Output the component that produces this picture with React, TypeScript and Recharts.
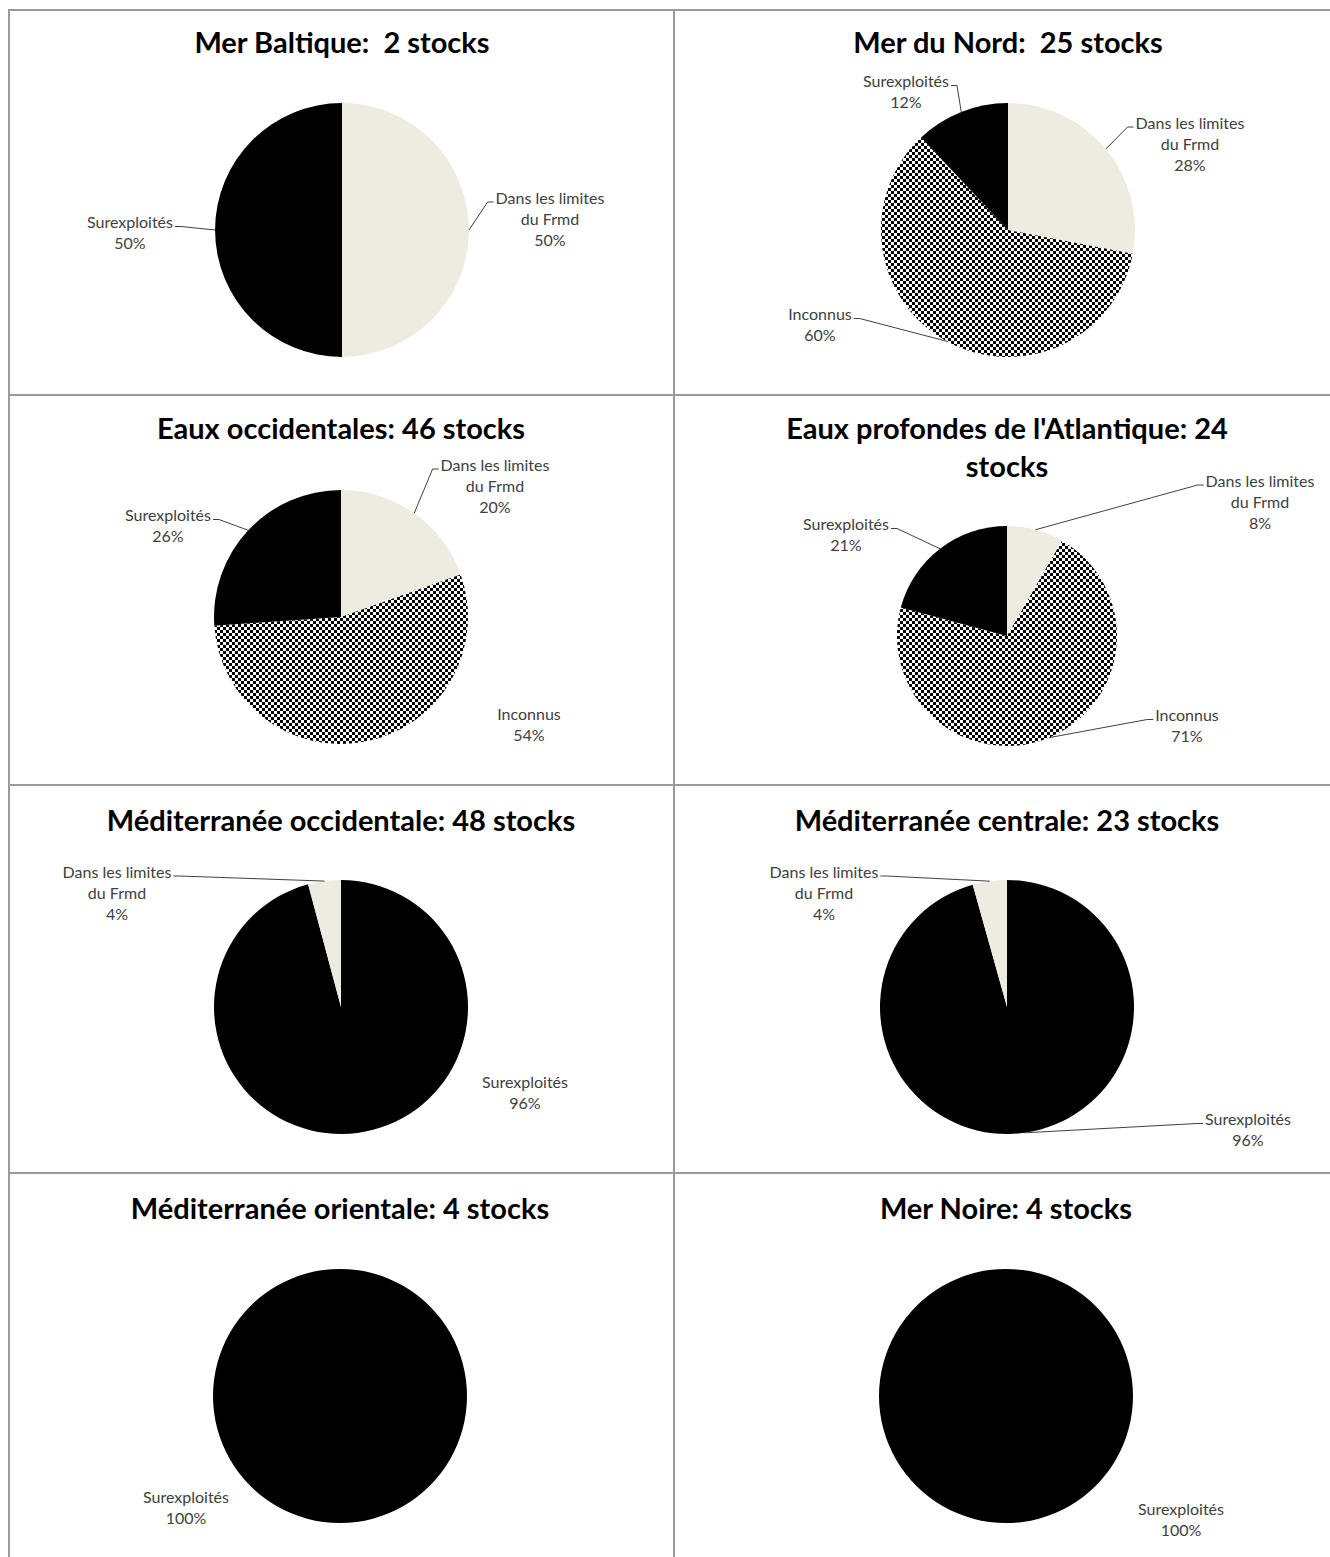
import React from "react";
import { PieChart, Pie, Cell } from "recharts";

// ---- data ----
const titles = [
  "Mer Baltique:  2 stocks",
  "Mer du Nord:  25 stocks",
  "Eaux occidentales: 46 stocks",
  "Eaux profondes de l'Atlantique: 24\nstocks",
  "Méditerranée occidentale: 48 stocks",
  "Méditerranée centrale: 23 stocks",
  "Méditerranée orientale: 4 stocks",
  "Mer Noire: 4 stocks",
];
const categories = ["Dans les limites\ndu Frmd", "Inconnus", "Surexploités"];
const withinFrmd = [1, 7, 9, 2, 2, 1, 0, 0];
const unknown = [0, 15, 25, 17, 0, 0, 0, 0];
const overexploited = [1, 3, 12, 5, 46, 22, 4, 4];
const seriesByCategory = [withinFrmd, unknown, overexploited];

// ---- styles ----
const BEIGE = "#EEECE1";
const BLACK = "#000000";
const GRID = "#9a9a9a";
const LABEL_COLOR = "#404040";
const FILLS = [BEIGE, "url(#checker)", BLACK];
const LABEL_FONT = "Lato, 'Open Sans', sans-serif";
const LABEL_SIZE = 16;
const LINE_H = 21;

// panel layout: cell rect, pie centre / radius, slice order, label offsets [dx, dy, leader]
type LabelPos = [number, number, boolean];
interface Panel {
  x: number;
  y: number;
  w: number;
  h: number;
  pcx: number;
  pcy: number;
  r: number;
  titleY: number;
  order: number[];
  labels: Record<number, LabelPos>;
}

const panels: Panel[] = [
  { x: 10, y: 11, w: 663, h: 383, pcx: 342, pcy: 230, r: 127, titleY: 42, order: [0, 1, 2],
    labels: { 0: [208, -12, true], 2: [-212, 2, true] } },
  { x: 675, y: 11, w: 655, h: 383, pcx: 1008, pcy: 230, r: 127, titleY: 42, order: [0, 1, 2],
    labels: { 0: [182, -87, true], 1: [-188, 94, true], 2: [-102, -139, true] } },
  { x: 10, y: 396, w: 663, h: 388, pcx: 341, pcy: 617, r: 127, titleY: 428, order: [0, 1, 2],
    labels: { 0: [154, -132, true], 1: [188, 107, false], 2: [-173, -92, true] } },
  { x: 675, y: 396, w: 655, h: 388, pcx: 1007, pcy: 636, r: 110, titleY: 428, order: [0, 1, 2],
    labels: { 0: [253, -135, true], 1: [180, 89, true], 2: [-161, -102, true] } },
  { x: 10, y: 786, w: 663, h: 386, pcx: 341, pcy: 1007, r: 127, titleY: 820, order: [2, 0],
    labels: { 0: [-224, -115, true], 2: [184, 85, false] } },
  { x: 675, y: 786, w: 655, h: 386, pcx: 1007, pcy: 1007, r: 127, titleY: 820, order: [2, 0],
    labels: { 0: [-183, -115, true], 2: [241, 122, true] } },
  { x: 10, y: 1174, w: 663, h: 383, pcx: 340, pcy: 1396, r: 127, titleY: 1208, order: [2],
    labels: { 2: [-154, 111, false] } },
  { x: 675, y: 1174, w: 655, h: 383, pcx: 1006, pcy: 1396, r: 127, titleY: 1208, order: [2],
    labels: { 2: [175, 123, false] } },
];

const RAD = Math.PI / 180;
let measureCtx: CanvasRenderingContext2D | null = null;
function textWidth(s: string) {
  if (!measureCtx) measureCtx = document.createElement("canvas").getContext("2d");
  if (!measureCtx) return s.length * 7;
  measureCtx.font = `${LABEL_SIZE}px Lato`;
  return measureCtx.measureText(s).width;
}

function makeLabel(panel: Panel) {
  return (props: any) => {
    const { cx, cy, midAngle, outerRadius, percent } = props;
    const cat = props.payload?.cat ?? props.cat;
    const pos = panel.labels[cat];
    if (!pos) return null;
    const [dx, dy, leader] = pos;
    const lines = [...categories[cat].split("\n"), `${Math.round(percent * 100)}%`];
    const tx = cx + dx;
    const top = cy + dy - ((lines.length - 1) * LINE_H) / 2;
    let path = null;
    if (leader) {
      const ex = cx + outerRadius * Math.cos(-midAngle * RAD);
      const ey = cy + outerRadius * Math.sin(-midAngle * RAD);
      const w1 = textWidth(lines[0]);
      const right = tx > ex;
      const ax = right ? tx - w1 / 2 - 2 : tx + w1 / 2 + 2;
      const bx = right ? ax - 6 : ax + 6;
      const ay = top + 5;
      path = (
        <polyline
          points={`${ex},${ey} ${bx},${ay} ${ax},${ay}`}
          fill="none"
          stroke={LABEL_COLOR}
          strokeWidth={1}
        />
      );
    }
    return (
      <g key={`lbl-${cat}`}>
        {path}
        {lines.map((l, i) => (
          <text
            key={i}
            x={tx}
            y={top + i * LINE_H}
            textAnchor="middle"
            dominantBaseline="central"
            fontFamily={LABEL_FONT}
            fontSize={LABEL_SIZE}
            fill={LABEL_COLOR}
          >
            {l}
          </text>
        ))}
      </g>
    );
  };
}

function PiePanel({ idx }: { idx: number }) {
  const p = panels[idx];
  const data = p.order
    .map((cat) => ({ name: categories[cat].replace("\n", " "), value: seriesByCategory[cat][idx], cat }))
    .filter((d) => d.value > 0);
  const titleLines = titles[idx].split("\n");
  const titleCenter = p.pcx - p.x;
  return (
    <div style={{ position: "absolute", left: p.x, top: p.y, width: p.w, height: p.h }}>
      <PieChart width={p.w} height={p.h} margin={{ top: 0, right: 0, bottom: 0, left: 0 }}>
        <Pie
          data={data}
          dataKey="value"
          nameKey="name"
          cx={p.pcx - p.x}
          cy={p.pcy - p.y}
          outerRadius={p.r}
          startAngle={90}
          endAngle={-270}
          stroke="none"
          labelLine={false}
          label={makeLabel(p)}
          isAnimationActive={false}
        >
          {data.map((d) => (
            <Cell key={d.cat} fill={FILLS[d.cat]} />
          ))}
        </Pie>
      </PieChart>
      <div
        style={{
          position: "absolute",
          left: 0,
          width: titleCenter * 2,
          top: p.titleY - p.y - 19,
          textAlign: "center",
          fontFamily: "Lato, sans-serif",
          fontWeight: 700,
          fontSize: 29,
          lineHeight: "38px",
          color: "#000",
          whiteSpace: "pre",
        }}
      >
        {titleLines.map((t, i) => (
          <div key={i}>{t}</div>
        ))}
      </div>
    </div>
  );
}

const hLines = [9, 394, 784, 1172];
const vLines = [8, 673];

export default function App() {
  return (
    <div style={{ position: "absolute", left: 0, top: 0, width: 1330, height: 1557, background: "#fff", overflow: "hidden" }}>
      <svg width={0} height={0} style={{ position: "absolute" }}>
        <defs>
          <pattern id="checker" width={6} height={6} patternUnits="userSpaceOnUse">
            <rect width={6} height={6} fill="#fff" />
            <rect width={3} height={3} fill="#000" />
            <rect x={3} y={3} width={3} height={3} fill="#000" />
          </pattern>
        </defs>
      </svg>
      {panels.map((_, i) => (
        <PiePanel key={i} idx={i} />
      ))}
      {hLines.map((y) => (
        <div key={`h${y}`} style={{ position: "absolute", left: 8, top: y, width: 1322, height: 2, background: GRID }} />
      ))}
      {vLines.map((x) => (
        <div key={`v${x}`} style={{ position: "absolute", left: x, top: 9, width: 2, height: 1548, background: GRID }} />
      ))}
    </div>
  );
}
